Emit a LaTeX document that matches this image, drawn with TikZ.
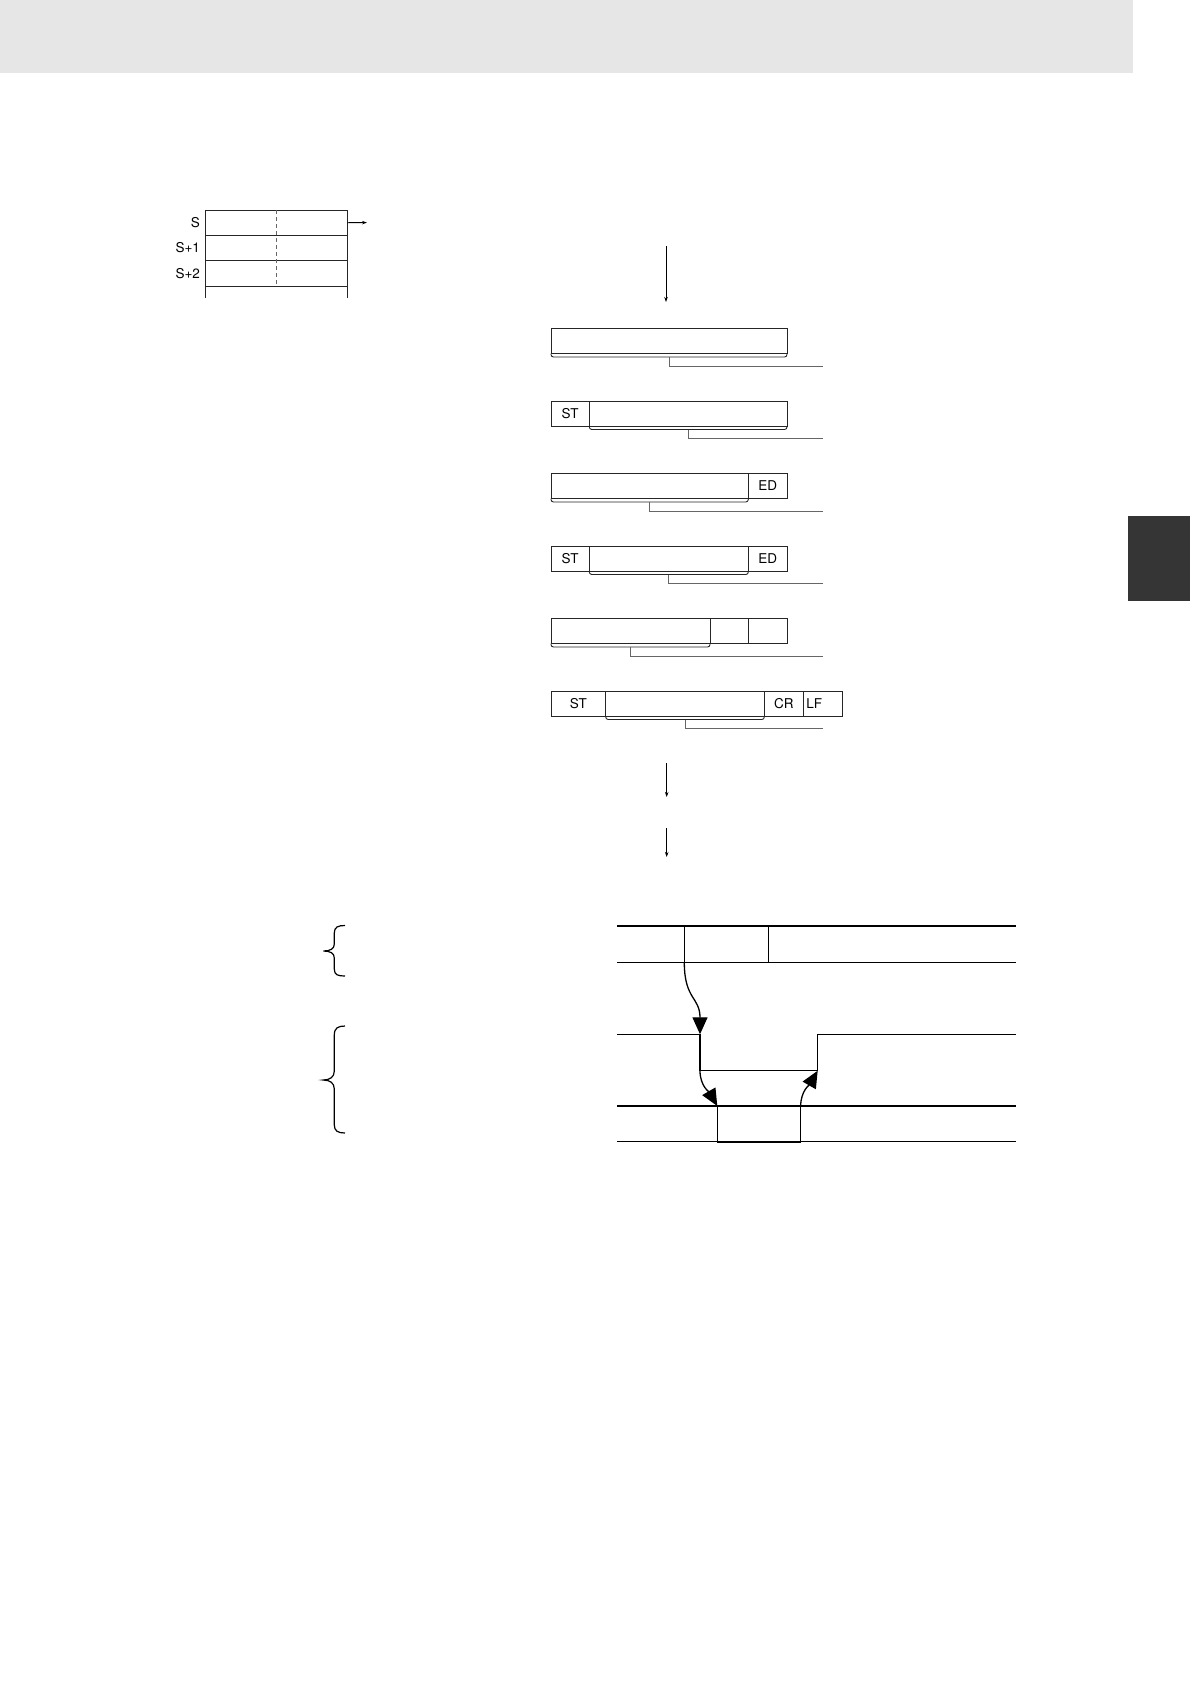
\documentclass[tikz,border=0pt]{standalone}
\usepackage{fontspec}
\setmainfont{TeX Gyre Heros}
\usepackage{tikz}
\usetikzlibrary{positioning,arrows.meta}
\definecolor{headgray}{HTML}{E6E6E6}
\definecolor{tabgray}{HTML}{353535}
\newcommand{\lblfont}{\fontsize{13.5}{15}\selectfont}

\begin{document}
\begin{tikzpicture}[x=1pt, y=-1pt, >={Stealth[length=5pt,width=3.5pt]}]
    \tikzset{
        lbl/.style={font=\lblfont, inner sep=0pt},
        reg/.style={draw=black!85, line width=0.8pt, minimum width=141.6pt, minimum height=25.3pt, inner sep=0pt, outer sep=0pt},
        fld/.style={draw=black!85, line width=0.8pt, minimum height=25pt, inner sep=0pt, outer sep=0pt, anchor=north west, font=\lblfont},
        brk/.style={draw=black!85, line width=0.9pt, rounded corners=2.5pt},
        lead/.style={draw=black!60, line width=1pt},
        wave/.style={line width=1.2pt},
        cause/.style={line width=1.3pt, -{Triangle[length=17pt,width=15pt]}},
        curly/.style={line width=1.2pt},
    }
    \useasboundingbox (0,0) rectangle (1190,1684);

    % Page band and tab
    \fill[headgray] (0,0) rectangle (1133,73);
    \fill[tabgray] (1128,516) rectangle (1190,601);

    % Source words
    \node[reg, anchor=north west] (r0) at (205.7,210) {};
    \node[reg, below=0pt of r0] (r1) {};
    \node[reg, below=0pt of r1] (r2) {};
    \node[lbl, left=5.5pt of r0] (s0) {S};
    \node[lbl, left=5.5pt of r1] (s1) {S+1};
    \node[lbl, left=5.5pt of r2] (s2) {S+2};
    \draw[draw=black!85, line width=0.8pt] (r2.south west) -- ++(0,12.5);
    \draw[draw=black!85, line width=0.8pt] (r2.south east) -- ++(0,12.5);
    \draw[black!60, line width=0.8pt, dash pattern=on 4pt off 3pt] (r0.north) -- (r2.south);
    \coordinate (out) at (367,222.6);
    \draw[->, line width=0.8pt] (r0.east) -- (out);

    % Arrow into the frames
    \coordinate (a0) at (666,246);
    \coordinate (a1) at (666,302);
    \draw[->, line width=0.9pt] (a0) -- (a1);

    % Frames
    \node[fld, minimum width=236pt] (m1) at (551,328.5) {};

    \node[fld, minimum width=38.3pt] (st2) at (551,401) {ST};
    \node[fld, minimum width=197.7pt, right=0pt of st2] (m2) {};

    \node[fld, minimum width=197.3pt] (m3) at (551,473.5) {};
    \node[fld, minimum width=38.7pt, right=0pt of m3] (ed3) {ED};

    \node[fld, minimum width=38.3pt] (st4) at (551,546) {ST};
    \node[fld, minimum width=159pt, right=0pt of st4] (m4) {};
    \node[fld, minimum width=38.7pt, right=0pt of m4] (ed4) {ED};

    \node[fld, minimum width=159pt] (m5) at (551,618.5) {};
    \node[fld, minimum width=38.3pt, right=0pt of m5] (c5) {};
    \node[fld, minimum width=38.7pt, right=0pt of c5] (d5) {};

    \node[fld, minimum width=54.7pt] (st6) at (551,691) {ST};
    \node[fld, minimum width=158.6pt, right=0pt of st6] (m6) {};
    \node[fld, minimum width=39pt, right=0pt of m6] (cr6) {CR};
    \node[fld, text width=33pt, inner xsep=3pt, align=left, right=0pt of cr6] (lf6) {LF};

    % Leaders
    \coordinate (l1) at (823,366);
    \coordinate (l2) at (823,438.5);
    \coordinate (l3) at (823,511);
    \coordinate (l4) at (823,583.5);
    \coordinate (l5) at (823,656);
    \coordinate (l6) at (823,728.5);
    \foreach \m/\l in {m1/l1, m2/l2, m3/l3, m4/l4, m5/l5, m6/l6} {
        \draw[brk] (\m.south west) -- ([yshift=-3.5pt]\m.south west) -- ([yshift=-3.5pt]\m.south east) -- (\m.south east);
        \draw[lead] ([yshift=-3.5pt]\m.south) |- (\l);
    }

    % Arrows below the frames
    \coordinate (b0) at (666.7,763);
    \coordinate (b1) at (666.7,797);
    \coordinate (b2) at (666.7,828);
    \coordinate (b3) at (666.7,857);
    \draw[->, line width=0.9pt] (b0) -- (b1);
    \draw[->, line width=0.9pt] (b2) -- (b3);

    % Braces
    \draw[curly] (345,925.5) .. controls (338,925.5) and (334.3,927) .. (334.3,933) -- (334.3,944)
        .. controls (334.3,949) and (330,951) .. (323.3,951) .. controls (330,951) and (334.3,953) .. (334.3,958)
        -- (334.3,969) .. controls (334.3,975) and (338,976) .. (345,976);
    \draw[curly] (345,1026) .. controls (338,1026) and (334.3,1028) .. (334.3,1035) -- (334.3,1071)
        .. controls (334.3,1077) and (330,1080) .. (323.3,1080) .. controls (330,1080) and (334.3,1083) .. (334.3,1089)
        -- (334.3,1125) .. controls (334.3,1131) and (338,1133) .. (345,1133);

    % Timing chart
    \coordinate (t1) at (684.3,962.3);
    \coordinate (t2) at (700,1034.3);
    \coordinate (t3) at (700,1070.7);
    \coordinate (t4) at (717.3,1106);
    \coordinate (t5) at (800.7,1106);
    \coordinate (t6) at (817.7,1070.7);

    \draw[wave] (617,926) -- (1016,926);
    \draw[wave] (617,962.3) -- (1016,962.3);
    \draw[wave] (684.3,926) -- (t1);
    \draw[wave] (768.3,926) -- (768.3,962.3);

    \draw[wave] (617,1034.3) -| (t3) -| (817.7,1034.3) -- (1016,1034.3);

    \draw[wave] (617,1106) -- (1016,1106);
    \draw[wave] (617,1141.7) -- (1016,1141.7);
    \draw[wave] (t4) -- (717.3,1141.7);
    \draw[wave] (t5) -- (800.7,1141.7);
    \draw[line width=2pt] (717.3,1141.7) -- (800.7,1141.7);

    \draw[cause] (t1) to[out=-90, in=90, looseness=1.3] (t2);
    \draw[cause] (t3) to[out=-90, in=120] (t4);
    \draw[cause] (t5) to[out=90, in=-120] (t6);

\end{tikzpicture}
\end{document}
